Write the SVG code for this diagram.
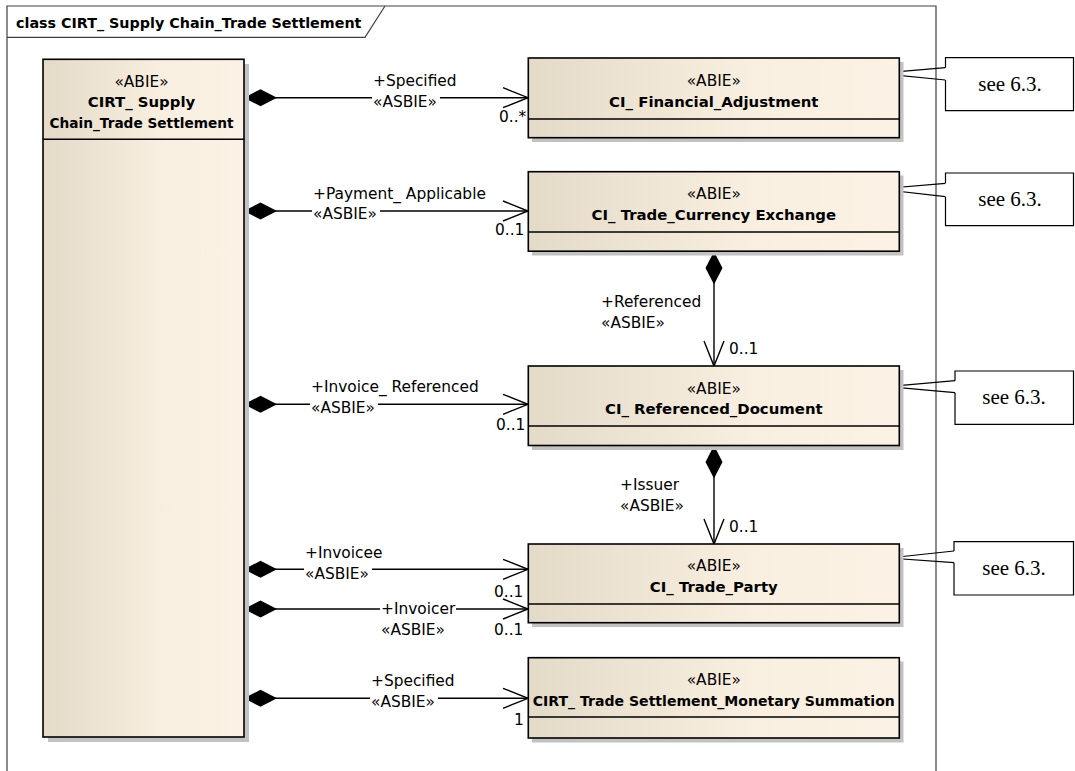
<svg xmlns="http://www.w3.org/2000/svg" width="1075" height="771" viewBox="0 0 1075 771">
<defs>
<linearGradient id="bg" x1="0" y1="0" x2="1" y2="0">
<stop offset="0" stop-color="#e4dac8"/>
<stop offset="0.6" stop-color="#f9efe0"/>
<stop offset="1" stop-color="#fbf2e5"/>
</linearGradient>
<marker id="dia" markerUnits="userSpaceOnUse" orient="auto" refX="0" refY="0" markerWidth="40" markerHeight="20" overflow="visible">
<path d="M0,0 L16.5,-8.5 L33,0 L16.5,8.5 Z" fill="#000"/>
</marker>
<marker id="arr" markerUnits="userSpaceOnUse" orient="auto" refX="0" refY="0" markerWidth="30" markerHeight="24" overflow="visible">
<path d="M-25,-10 L0,0 L-25,10" fill="none" stroke="#000" stroke-width="1.4"/>
</marker>
</defs>
<style>
text{font-family:"DejaVu Sans","Liberation Sans",sans-serif;fill:#000}
.r{font-size:15.4px}
.b{font-size:14.9px;font-weight:bold}
.c{text-anchor:middle}
.n{font-family:"Liberation Serif","Times New Roman",serif;font-size:21px;text-anchor:middle}
.box{fill:url(#bg);stroke:#000;stroke-width:1.6}
.sh{fill:#c2c2c2}
.div{stroke:#000;stroke-width:1.6}
.con{fill:none;stroke:#000;stroke-width:1.4;marker-start:url(#dia);marker-end:url(#arr)}
.note{fill:#fff;stroke:#000;stroke-width:1.2}
.nl{fill:none;stroke:#000;stroke-width:1.2}
.bgl{fill:#fff}
</style>
<rect width="1075" height="771" fill="#fff"/>

<g id="frame">
<path d="M7,771 V6 H936 V771" fill="none" stroke="#404040" stroke-width="1.2"/>
<path d="M7,37.3 H365 L385,6" fill="none" stroke="#404040" stroke-width="1.2"/>
<text x="16" y="27.5" class="b" style="font-size:14.3px">class CIRT_ Supply Chain_Trade Settlement</text>
</g>

<g id="connectors">
<path class="con" d="M244,97.7 H528"/>
<path class="con" d="M244,211 H528"/>
<path class="con" d="M244,404.3 H528"/>
<path class="con" d="M244,569.3 H528"/>
<path class="con" d="M244,609 H528"/>
<path class="con" d="M244,698.3 H528"/>
<path class="con" d="M714,251.5 V366"/>
<path class="con" d="M714,445.5 V544"/>
<path class="nl" d="M878.4,73.3 L945.5,67.7 M878.4,73.3 L945.5,80"/>
<path class="nl" d="M878.4,189 L945.5,183.3 M878.4,189 L945.5,196.7"/>
<path class="nl" d="M887.7,386.7 L955,380.7 M887.7,386.7 L955,392.7"/>
<path class="nl" d="M888.5,558 L954,551 M888.5,558 L954,562.7"/>
</g>

<g id="labels">
<text x="373" y="85.5" class="r">+Specified</text>
<rect class="bgl" x="372" y="93" width="68" height="10"/>
<text x="373" y="106.5" class="r">«ASBIE»</text>
<text x="499" y="121.5" class="r">0..*</text>

<text x="313" y="198.5" class="r">+Payment_ Applicable</text>
<rect class="bgl" x="312" y="206" width="68" height="10"/>
<text x="313" y="219" class="r">«ASBIE»</text>
<text x="495" y="235" class="r">0..1</text>

<text x="311" y="392" class="r">+Invoice_ Referenced</text>
<rect class="bgl" x="310" y="399" width="68" height="10"/>
<text x="311" y="413" class="r">«ASBIE»</text>
<text x="496" y="430" class="r">0..1</text>

<text x="305" y="558" class="r">+Invoicee</text>
<rect class="bgl" x="304" y="564" width="68" height="10"/>
<text x="305" y="579" class="r">«ASBIE»</text>
<text x="494" y="597" class="r">0..1</text>

<rect class="bgl" x="380" y="603" width="76" height="12"/>
<text x="381" y="614" class="r">+Invoicer</text>
<text x="381" y="635" class="r">«ASBIE»</text>
<text x="494" y="635" class="r">0..1</text>

<text x="371" y="686" class="r">+Specified</text>
<rect class="bgl" x="370" y="693" width="68" height="10"/>
<text x="371" y="707" class="r">«ASBIE»</text>
<text x="514" y="725" class="r">1</text>

<text x="601" y="307" class="r">+Referenced</text>
<text x="601" y="327.5" class="r">«ASBIE»</text>
<text x="729" y="354" class="r">0..1</text>

<text x="620" y="490" class="r">+Issuer</text>
<text x="620" y="511" class="r">«ASBIE»</text>
<text x="729" y="532" class="r">0..1</text>
</g>

<g id="n-settlement">
<rect class="sh" x="48" y="64" width="201" height="678"/>
<rect class="box" x="43" y="59.3" width="201" height="677.7"/>
<line class="div" x1="43" y1="139.3" x2="244" y2="139.3"/>
<text x="141.5" y="87" class="r c">«ABIE»</text>
<text x="141.5" y="107" class="b c">CIRT_ Supply</text>
<text x="141.5" y="127.5" class="b c" textLength="184" lengthAdjust="spacingAndGlyphs">Chain_Trade Settlement</text>
</g>

<g id="n-financial">
<rect class="sh" x="532" y="62" width="371.5" height="80"/>
<rect class="box" x="528.3" y="58" width="371" height="79.7"/>
<line class="div" x1="528.3" y1="119" x2="899.3" y2="119"/>
<text x="713.8" y="85.5" class="r c">«ABIE»</text>
<text x="713.8" y="106.5" class="b c">CI_ Financial_Adjustment</text>
</g>

<g id="n-currency">
<rect class="sh" x="532" y="175.5" width="371.5" height="80"/>
<rect class="box" x="528.3" y="171.7" width="371" height="79.5"/>
<line class="div" x1="528.3" y1="232" x2="899.3" y2="232"/>
<text x="713.8" y="199" class="r c">«ABIE»</text>
<text x="713.8" y="220" class="b c">CI_ Trade_Currency Exchange</text>
</g>

<g id="n-refdoc">
<rect class="sh" x="532" y="370" width="371.5" height="80"/>
<rect class="box" x="528.3" y="366" width="371" height="79.5"/>
<line class="div" x1="528.3" y1="426" x2="899.3" y2="426"/>
<text x="713.8" y="393.5" class="r c">«ABIE»</text>
<text x="713.8" y="414" class="b c">CI_ Referenced_Document</text>
</g>

<g id="n-party">
<rect class="sh" x="532" y="548" width="371.5" height="79"/>
<rect class="box" x="528.3" y="544" width="371" height="78.7"/>
<line class="div" x1="528.3" y1="604" x2="899.3" y2="604"/>
<text x="713.8" y="571" class="r c">«ABIE»</text>
<text x="713.8" y="592" class="b c">CI_ Trade_Party</text>
</g>

<g id="n-monetary">
<rect class="sh" x="532" y="661.5" width="371.5" height="81"/>
<rect class="box" x="528.3" y="657.7" width="371" height="80.3"/>
<line class="div" x1="528.3" y1="717" x2="899.3" y2="717"/>
<text x="713.8" y="685" class="r c">«ABIE»</text>
<text x="713.8" y="706" class="b c" textLength="362" lengthAdjust="spacingAndGlyphs">CIRT_ Trade Settlement_Monetary Summation</text>
</g>

<g id="note1">
<path class="note" d="M945.5,67.7 V57.7 H1073.5 V110.7 H945.5 V80"/>
<text x="1010" y="90.5" class="n">see 6.3.</text>
</g>
<g id="note2">
<path class="note" d="M945.5,183.3 V173 H1073.5 V225.7 H945.5 V196.7"/>
<text x="1010" y="205.5" class="n">see 6.3.</text>
</g>
<g id="note3">
<path class="note" d="M955,380.7 V371 H1073.5 V424.3 H955 V392.7"/>
<text x="1014" y="403.5" class="n">see 6.3.</text>
</g>
<g id="note4">
<path class="note" d="M954,551 V541.7 H1073.5 V595 H954 V562.7"/>
<text x="1014" y="574.5" class="n">see 6.3.</text>
</g>
</svg>
